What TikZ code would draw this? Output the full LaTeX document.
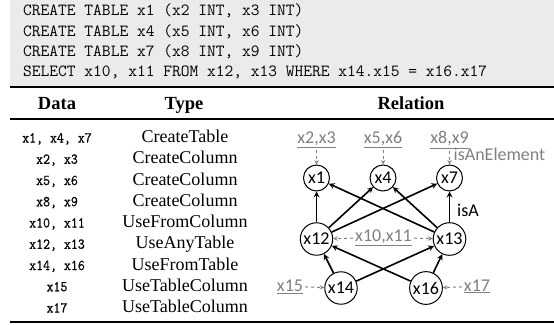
\documentclass[tikz,border=0pt]{standalone}
\usepackage{fontspec}
\usetikzlibrary{positioning}
\newfontfamily\graphfont{Carlito}
\newfontfamily\tablefont{Liberation Serif}
\newfontfamily\datafont{Latin Modern Mono}[FakeStretch=0.9, FakeBold=0.6]
\definecolor{codebg}{RGB}{235,235,235}
\definecolor{elemgray}{RGB}{128,128,128}

\begin{document}
\begin{tikzpicture}[x=1pt, y=-1pt, node distance=66.5pt]

\tikzstyle{code} = [anchor=base west, inner sep=0pt, font=\fontsize{17}{20}\ttfamily]
\tikzstyle{head} = [anchor=base, inner sep=0pt, font=\fontsize{18.5}{20}\tablefont\bfseries]
\tikzstyle{data} = [anchor=base, inner sep=0pt, font=\fontsize{15}{18}\datafont]
\tikzstyle{type} = [anchor=base, inner sep=0pt, font=\fontsize{18}{20}\tablefont]
\tikzstyle{var} = [circle, draw=black, line width=1pt, minimum size=26pt, inner sep=1.5pt, font=\fontsize{18}{20}\graphfont]
\tikzstyle{elem} = [text=elemgray, inner sep=2pt, font=\fontsize{18}{20}\graphfont]
\tikzstyle{rel} = [inner sep=1pt, anchor=west, font=\fontsize{18}{20}\graphfont]

\tikzstyle{arrow} = [line width=1.6pt,->,>=stealth]
\tikzstyle{darrow} = [elemgray, line width=1pt, dashed, ->, >=stealth]

\useasboundingbox (0,0) rectangle (554,324);

% code
\fill [codebg] (10,0) rectangle (554,86);
\node (c1) [code] at (23,15.5) {CREATE TABLE x1 (x2 INT, x3 INT)};
\node (c2) [code] at (23,36) {CREATE TABLE x4 (x5 INT, x6 INT)};
\node (c3) [code] at (23,56.5) {CREATE TABLE x7 (x8 INT, x9 INT)};
\node (c4) [code] at (23,76.5) {SELECT x10, x11 FROM x12, x13 WHERE x14.x15 = x16.x17};

% table
\draw [line width=2pt] (10,87) -- (554,87);
\draw [line width=1.2pt] (10,119) -- (554,119);
\draw [line width=2pt] (10,322) -- (554,322);

\node (hdata) [head] at (57,109.5) {Data};
\node (htype) [head] at (184,109.5) {Type};
\node (hrel) [head] at (411,109.5) {Relation};

\node (d1) [data] at (57,142.5) {x1, x4, x7};
\node (d2) [data] at (57,163.75) {x2, x3};
\node (d3) [data] at (57,185) {x5, x6};
\node (d4) [data] at (57,206.25) {x8, x9};
\node (d5) [data] at (57,227.5) {x10, x11};
\node (d6) [data] at (57,248.75) {x12, x13};
\node (d7) [data] at (57,270) {x14, x16};
\node (d8) [data] at (57,291.25) {x15};
\node (d9) [data] at (57,312.5) {x17};

\node (t1) [type] at (185,142.5) {CreateTable};
\node (t2) [type] at (185,163.75) {CreateColumn};
\node (t3) [type] at (185,185) {CreateColumn};
\node (t4) [type] at (185,206.25) {CreateColumn};
\node (t5) [type] at (185,227.5) {UseFromColumn};
\node (t6) [type] at (185,248.75) {UseAnyTable};
\node (t7) [type] at (185,270) {UseFromTable};
\node (t8) [type] at (185,291.25) {UseTableColumn};
\node (t9) [type] at (185,312.5) {UseTableColumn};

% relation graph
\node (x1) [var] at (316.5,178) {x1};
\node (x4) [var, right of = x1] {x4};
\node (x7) [var, right of = x4] {x7};
\node (x12) [var, below of = x1, node distance=61pt] {x12};
\node (x13) [var, below of = x7, node distance=61pt] {x13};
\node (x14) [var, below of = x12, node distance=49pt, xshift=24.5pt] {x14};
\node (x16) [var, below of = x13, node distance=49pt, xshift=-23.5pt] {x16};

\node (x23) [elem, above of = x1, node distance=38pt] {\underline{x2,x3}};
\node (x56) [elem, above of = x4, node distance=38pt] {\underline{x5,x6}};
\node (x89) [elem, above of = x7, node distance=38pt] {\underline{x8,x9}};
\node (x1011) [elem, right of = x12, node distance=67pt, yshift=1.5pt] {\underline{x10,x11}};
\node (x15) [elem, left of = x14, node distance=51pt, yshift=1.5pt] {\underline{x15}};
\node (x17) [elem, right of = x16, node distance=51pt, yshift=1.5pt] {\underline{x17}};

\node (isel) [rel, text=elemgray] at (452.5,154) {isAnElement};
\node (isa) [rel] at (456,210) {isA};

\draw [arrow] (x12) -- (x1);
\draw [arrow] (x12) -- (x4);
\draw [arrow] (x12) -- (x7);
\draw [arrow] (x13) -- (x1);
\draw [arrow] (x13) -- (x4);
\draw [arrow] (x13) -- (x7);
\draw [arrow] (x14) -- (x12);
\draw [arrow] (x14) -- (x13);
\draw [arrow] (x16) -- (x12);
\draw [arrow] (x16) -- (x13);

\draw [darrow] (x23) -- (x1);
\draw [darrow] (x56) -- (x4);
\draw [darrow] (x89) -- (x7);
\draw [darrow] (x1011) -- (x12);
\draw [darrow] (x1011) -- (x13);
\draw [darrow] (x15) -- (x14);
\draw [darrow] (x17) -- (x16);

\end{tikzpicture}
\end{document}
